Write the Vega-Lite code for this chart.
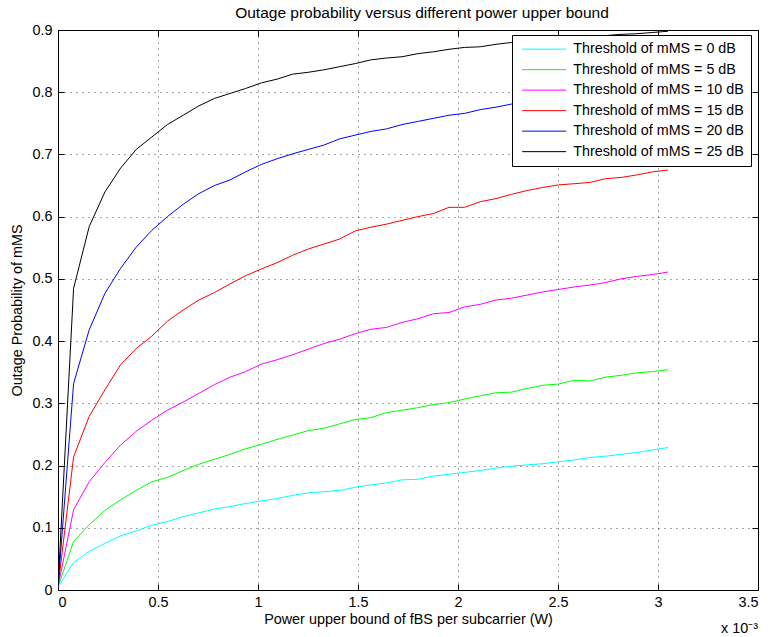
{
  "$schema": "https://vega.github.io/schema/vega-lite/v6.json",
  "width": 700,
  "height": 560,
  "autosize": "none",
  "padding": {"left": 58, "top": 30, "right": 14, "bottom": 47},
  "background": "white",
  "title": {"text": "Outage probability versus different power upper bound", "font": "Liberation Sans", "fontSize": 15.5, "fontWeight": "normal", "color": "black", "anchor": "middle", "offset": 1, "dx": 14},
  "config": {
    "view": {"stroke": "black", "strokeWidth": 1},
    "font": "Liberation Sans",
    "axis": {
      "domain": false,
      "tickColor": "black",
      "tickSize": -6,
      "labelColor": "black",
      "labelFont": "Liberation Sans",
      "labelFontSize": 14.4,
      "titleFont": "Liberation Sans",
      "titleFontSize": 14.4,
      "titleFontWeight": "normal",
      "titleColor": "black",
      "gridColor": "#000000",
      "gridOpacity": 0.7,
      "gridDash": [1, 5],
      "gridWidth": 1
    }
  },
  "layer": [
    {
      "data": {"values": [
        {"x":0,"t":0,"y":0.005},{"x":0.078,"t":0,"y":0.044},{"x":0.156,"t":0,"y":0.062},{"x":0.235,"t":0,"y":0.075},{"x":0.313,"t":0,"y":0.087},{"x":0.391,"t":0,"y":0.095},{"x":0.469,"t":0,"y":0.104},{"x":0.547,"t":0,"y":0.110},{"x":0.626,"t":0,"y":0.118},{"x":0.704,"t":0,"y":0.124},{"x":0.782,"t":0,"y":0.130},{"x":0.860,"t":0,"y":0.134},{"x":0.938,"t":0,"y":0.139},{"x":1.017,"t":0,"y":0.143},{"x":1.095,"t":0,"y":0.147},{"x":1.173,"t":0,"y":0.152},{"x":1.251,"t":0,"y":0.156},{"x":1.329,"t":0,"y":0.158},{"x":1.408,"t":0,"y":0.160},{"x":1.486,"t":0,"y":0.165},{"x":1.564,"t":0,"y":0.169},{"x":1.642,"t":0,"y":0.172},{"x":1.720,"t":0,"y":0.177},{"x":1.799,"t":0,"y":0.178},{"x":1.877,"t":0,"y":0.183},{"x":1.955,"t":0,"y":0.186},{"x":2.033,"t":0,"y":0.189},{"x":2.111,"t":0,"y":0.192},{"x":2.190,"t":0,"y":0.196},{"x":2.268,"t":0,"y":0.199},{"x":2.346,"t":0,"y":0.201},{"x":2.424,"t":0,"y":0.203},{"x":2.502,"t":0,"y":0.206},{"x":2.581,"t":0,"y":0.209},{"x":2.659,"t":0,"y":0.213},{"x":2.737,"t":0,"y":0.215},{"x":2.815,"t":0,"y":0.218},{"x":2.893,"t":0,"y":0.221},{"x":2.972,"t":0,"y":0.225},{"x":3.050,"t":0,"y":0.229},
        {"x":0,"t":5,"y":0.005},{"x":0.078,"t":5,"y":0.078},{"x":0.156,"t":5,"y":0.105},{"x":0.235,"t":5,"y":0.128},{"x":0.313,"t":5,"y":0.145},{"x":0.391,"t":5,"y":0.160},{"x":0.469,"t":5,"y":0.174},{"x":0.547,"t":5,"y":0.181},{"x":0.626,"t":5,"y":0.192},{"x":0.704,"t":5,"y":0.202},{"x":0.782,"t":5,"y":0.210},{"x":0.860,"t":5,"y":0.218},{"x":0.938,"t":5,"y":0.227},{"x":1.017,"t":5,"y":0.234},{"x":1.095,"t":5,"y":0.242},{"x":1.173,"t":5,"y":0.249},{"x":1.251,"t":5,"y":0.256},{"x":1.329,"t":5,"y":0.260},{"x":1.408,"t":5,"y":0.267},{"x":1.486,"t":5,"y":0.274},{"x":1.564,"t":5,"y":0.277},{"x":1.642,"t":5,"y":0.285},{"x":1.720,"t":5,"y":0.289},{"x":1.799,"t":5,"y":0.293},{"x":1.877,"t":5,"y":0.298},{"x":1.955,"t":5,"y":0.301},{"x":2.033,"t":5,"y":0.307},{"x":2.111,"t":5,"y":0.312},{"x":2.190,"t":5,"y":0.317},{"x":2.268,"t":5,"y":0.318},{"x":2.346,"t":5,"y":0.324},{"x":2.424,"t":5,"y":0.329},{"x":2.502,"t":5,"y":0.331},{"x":2.581,"t":5,"y":0.337},{"x":2.659,"t":5,"y":0.336},{"x":2.737,"t":5,"y":0.342},{"x":2.815,"t":5,"y":0.345},{"x":2.893,"t":5,"y":0.349},{"x":2.972,"t":5,"y":0.351},{"x":3.050,"t":5,"y":0.354},
        {"x":0,"t":10,"y":0.005},{"x":0.078,"t":10,"y":0.129},{"x":0.156,"t":10,"y":0.174},{"x":0.235,"t":10,"y":0.205},{"x":0.313,"t":10,"y":0.233},{"x":0.391,"t":10,"y":0.255},{"x":0.469,"t":10,"y":0.273},{"x":0.547,"t":10,"y":0.289},{"x":0.626,"t":10,"y":0.302},{"x":0.704,"t":10,"y":0.316},{"x":0.782,"t":10,"y":0.330},{"x":0.860,"t":10,"y":0.342},{"x":0.938,"t":10,"y":0.351},{"x":1.017,"t":10,"y":0.363},{"x":1.095,"t":10,"y":0.370},{"x":1.173,"t":10,"y":0.378},{"x":1.251,"t":10,"y":0.387},{"x":1.329,"t":10,"y":0.396},{"x":1.408,"t":10,"y":0.403},{"x":1.486,"t":10,"y":0.412},{"x":1.564,"t":10,"y":0.419},{"x":1.642,"t":10,"y":0.422},{"x":1.720,"t":10,"y":0.430},{"x":1.799,"t":10,"y":0.436},{"x":1.877,"t":10,"y":0.444},{"x":1.955,"t":10,"y":0.446},{"x":2.033,"t":10,"y":0.455},{"x":2.111,"t":10,"y":0.459},{"x":2.190,"t":10,"y":0.466},{"x":2.268,"t":10,"y":0.469},{"x":2.346,"t":10,"y":0.474},{"x":2.424,"t":10,"y":0.479},{"x":2.502,"t":10,"y":0.483},{"x":2.581,"t":10,"y":0.487},{"x":2.659,"t":10,"y":0.490},{"x":2.737,"t":10,"y":0.494},{"x":2.815,"t":10,"y":0.500},{"x":2.893,"t":10,"y":0.504},{"x":2.972,"t":10,"y":0.507},{"x":3.050,"t":10,"y":0.511},
        {"x":0,"t":15,"y":0.005},{"x":0.078,"t":15,"y":0.214},{"x":0.156,"t":15,"y":0.279},{"x":0.235,"t":15,"y":0.322},{"x":0.313,"t":15,"y":0.362},{"x":0.391,"t":15,"y":0.388},{"x":0.469,"t":15,"y":0.408},{"x":0.547,"t":15,"y":0.432},{"x":0.626,"t":15,"y":0.450},{"x":0.704,"t":15,"y":0.466},{"x":0.782,"t":15,"y":0.478},{"x":0.860,"t":15,"y":0.492},{"x":0.938,"t":15,"y":0.505},{"x":1.017,"t":15,"y":0.516},{"x":1.095,"t":15,"y":0.526},{"x":1.173,"t":15,"y":0.538},{"x":1.251,"t":15,"y":0.548},{"x":1.329,"t":15,"y":0.556},{"x":1.408,"t":15,"y":0.564},{"x":1.486,"t":15,"y":0.577},{"x":1.564,"t":15,"y":0.583},{"x":1.642,"t":15,"y":0.588},{"x":1.720,"t":15,"y":0.594},{"x":1.799,"t":15,"y":0.600},{"x":1.877,"t":15,"y":0.605},{"x":1.955,"t":15,"y":0.615},{"x":2.033,"t":15,"y":0.615},{"x":2.111,"t":15,"y":0.624},{"x":2.190,"t":15,"y":0.629},{"x":2.268,"t":15,"y":0.636},{"x":2.346,"t":15,"y":0.642},{"x":2.424,"t":15,"y":0.647},{"x":2.502,"t":15,"y":0.651},{"x":2.581,"t":15,"y":0.653},{"x":2.659,"t":15,"y":0.655},{"x":2.737,"t":15,"y":0.661},{"x":2.815,"t":15,"y":0.663},{"x":2.893,"t":15,"y":0.667},{"x":2.972,"t":15,"y":0.672},{"x":3.050,"t":15,"y":0.675},
        {"x":0,"t":20,"y":0.005},{"x":0.078,"t":20,"y":0.332},{"x":0.156,"t":20,"y":0.418},{"x":0.235,"t":20,"y":0.477},{"x":0.313,"t":20,"y":0.517},{"x":0.391,"t":20,"y":0.551},{"x":0.469,"t":20,"y":0.578},{"x":0.547,"t":20,"y":0.600},{"x":0.626,"t":20,"y":0.620},{"x":0.704,"t":20,"y":0.637},{"x":0.782,"t":20,"y":0.650},{"x":0.860,"t":20,"y":0.659},{"x":0.938,"t":20,"y":0.672},{"x":1.017,"t":20,"y":0.684},{"x":1.095,"t":20,"y":0.693},{"x":1.173,"t":20,"y":0.701},{"x":1.251,"t":20,"y":0.708},{"x":1.329,"t":20,"y":0.715},{"x":1.408,"t":20,"y":0.725},{"x":1.486,"t":20,"y":0.731},{"x":1.564,"t":20,"y":0.737},{"x":1.642,"t":20,"y":0.741},{"x":1.720,"t":20,"y":0.748},{"x":1.799,"t":20,"y":0.753},{"x":1.877,"t":20,"y":0.758},{"x":1.955,"t":20,"y":0.763},{"x":2.033,"t":20,"y":0.766},{"x":2.111,"t":20,"y":0.772},{"x":2.190,"t":20,"y":0.776},{"x":2.268,"t":20,"y":0.781},{"x":2.346,"t":20,"y":0.785},{"x":2.424,"t":20,"y":0.789},{"x":2.502,"t":20,"y":0.792},{"x":2.581,"t":20,"y":0.795},{"x":2.659,"t":20,"y":0.798},{"x":2.737,"t":20,"y":0.801},{"x":2.815,"t":20,"y":0.804},{"x":2.893,"t":20,"y":0.807},{"x":2.972,"t":20,"y":0.809},{"x":3.050,"t":20,"y":0.812},
        {"x":0,"t":25,"y":0.005},{"x":0.078,"t":25,"y":0.485},{"x":0.156,"t":25,"y":0.584},{"x":0.235,"t":25,"y":0.640},{"x":0.313,"t":25,"y":0.678},{"x":0.391,"t":25,"y":0.708},{"x":0.469,"t":25,"y":0.728},{"x":0.547,"t":25,"y":0.748},{"x":0.626,"t":25,"y":0.763},{"x":0.704,"t":25,"y":0.778},{"x":0.782,"t":25,"y":0.790},{"x":0.860,"t":25,"y":0.798},{"x":0.938,"t":25,"y":0.806},{"x":1.017,"t":25,"y":0.815},{"x":1.095,"t":25,"y":0.821},{"x":1.173,"t":25,"y":0.829},{"x":1.251,"t":25,"y":0.832},{"x":1.329,"t":25,"y":0.836},{"x":1.408,"t":25,"y":0.841},{"x":1.486,"t":25,"y":0.846},{"x":1.564,"t":25,"y":0.852},{"x":1.642,"t":25,"y":0.855},{"x":1.720,"t":25,"y":0.857},{"x":1.799,"t":25,"y":0.862},{"x":1.877,"t":25,"y":0.865},{"x":1.955,"t":25,"y":0.869},{"x":2.033,"t":25,"y":0.872},{"x":2.111,"t":25,"y":0.873},{"x":2.190,"t":25,"y":0.877},{"x":2.268,"t":25,"y":0.880},{"x":2.346,"t":25,"y":0.882},{"x":2.424,"t":25,"y":0.884},{"x":2.502,"t":25,"y":0.886},{"x":2.581,"t":25,"y":0.888},{"x":2.659,"t":25,"y":0.889},{"x":2.737,"t":25,"y":0.891},{"x":2.815,"t":25,"y":0.893},{"x":2.893,"t":25,"y":0.894},{"x":2.972,"t":25,"y":0.896},{"x":3.050,"t":25,"y":0.898}
      ]},
      "mark": {"type": "line", "strokeWidth": 1, "clip": true},
      "encoding": {
        "x": {"field": "x", "type": "quantitative", "scale": {"domain": [0, 3.5], "nice": false},
          "axis": {"orient": "bottom", "values": [0, 0.5, 1, 1.5, 2, 2.5, 3, 3.5], "format": "~g", "grid": true, "labelPadding": 11, "title": "Power upper bound of fBS per subcarrier (W)", "titlePadding": 4}},
        "y": {"field": "y", "type": "quantitative", "scale": {"domain": [0, 0.9], "nice": false},
          "axis": {"orient": "left", "values": [0, 0.1, 0.2, 0.3, 0.4, 0.5, 0.6, 0.7, 0.8, 0.9], "format": "~g", "grid": true, "labelPadding": 12, "title": "Outage Probability of mMS", "titlePadding": 7}},
        "color": {"field": "t", "type": "nominal",
          "scale": {"domain": [0, 5, 10, 15, 20, 25], "range": ["#00ffff", "#00ff00", "#ff00ff", "#ff0000", "#0000ff", "#000000"]},
          "legend": {"title": null, "orient": "none", "legendX": 454, "legendY": 5,
            "labelExpr": "'Threshold of mMS = ' + datum.label + ' dB'",
            "strokeColor": "black", "fillColor": "white", "padding": 7,
            "symbolType": "M-4,0H4", "symbolSize": 121, "symbolStrokeWidth": 1, "symbolOffset": 18,
            "labelFont": "Liberation Sans", "labelFontSize": 14.3, "labelColor": "black", "labelOffset": 22, "labelLimit": 400, "rowPadding": 5.5}}
      }
    },
    {
      "data": {"values": [{}]},
      "mark": {"type": "text", "align": "right", "baseline": "alphabetic", "dy": 43, "fontSize": 14.4, "font": "Liberation Sans", "color": "black"},
      "encoding": {
        "x": {"datum": 3.5, "type": "quantitative", "axis": {"orient": "top", "values": [0, 0.5, 1, 1.5, 2, 2.5, 3, 3.5], "labels": false, "title": null, "grid": false}},
        "y": {"datum": 0, "type": "quantitative", "axis": {"orient": "right", "values": [0, 0.1, 0.2, 0.3, 0.4, 0.5, 0.6, 0.7, 0.8, 0.9], "labels": false, "title": null, "grid": false}},
        "text": {"value": "x 10⁻³"}
      }
    }
  ],
  "resolve": {"axis": {"x": "independent", "y": "independent"}}
}
